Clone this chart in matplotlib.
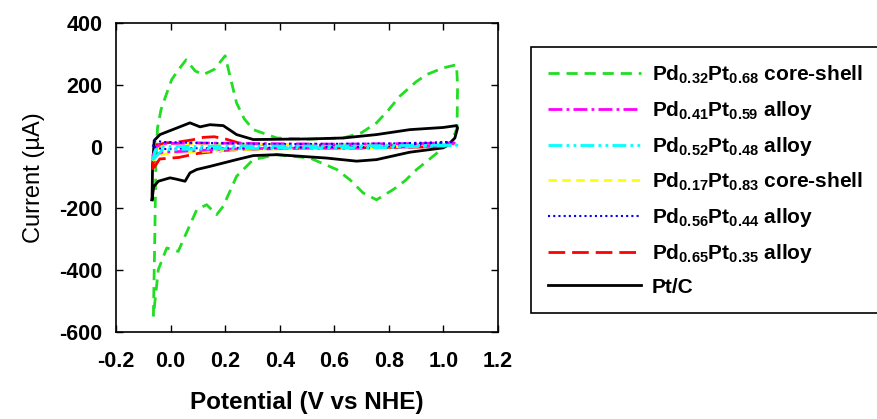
import numpy as np
import matplotlib
matplotlib.use("Agg")
from matplotlib import pyplot as plt

plt.rcParams['font.family'] = ['Liberation Sans', 'DejaVu Sans']
plt.rcParams['font.weight'] = 'bold'
plt.rcParams['axes.unicode_minus'] = False
plt.rcParams['mathtext.fontset'] = 'custom'
plt.rcParams['mathtext.rm'] = 'Liberation Sans:bold'
plt.rcParams['mathtext.bf'] = 'Liberation Sans:bold'
plt.rcParams['mathtext.default'] = 'bf'

# CV data (potential V vs NHE, current uA)
green_v = [-0.063, -0.058, -0.054, -0.048, -0.035, -0.027, 0.004, 0.03, 0.057, 0.09, 0.12, 0.16, 0.2,
           0.22, 0.242, 0.27, 0.303, 0.389, 0.5, 0.633, 0.7, 0.755, 0.8, 0.84, 0.9, 0.938, 1.0, 1.048,
           1.052, 1.05, 1.03, 0.999, 0.95, 0.902, 0.86, 0.816, 0.755, 0.706, 0.657, 0.609, 0.511,
           0.389, 0.303, 0.242, 0.193, 0.169, 0.132, 0.096, 0.047, 0.028, -0.014, -0.045, -0.063]
green_i = [-549, -300, -50, 60, 120, 141, 217, 250, 281, 245, 233, 250, 294,
           220, 141, 90, 55, 28, 24, 28, 45, 77, 120, 163, 210, 233, 255, 265,
           200, 60, 15, -4, -40, -74, -110, -139, -172, -150, -107, -74, -37,
           -26, -42, -96, -193, -220, -188, -204, -301, -339, -328, -398, -549]

black_v = [-0.068, -0.066, -0.06, -0.039, 0.022, 0.071, 0.108, 0.144, 0.193, 0.242, 0.303, 0.511, 0.633,
           0.755, 0.877, 0.999, 1.048, 1.052, 1.042, 1.02, 0.999, 0.877, 0.755, 0.682, 0.572, 0.389,
           0.303, 0.242, 0.144, 0.096, 0.071, 0.053, 0.02, -0.002, -0.045, -0.062, -0.068]
black_i = [-172, -60, 20, 39, 60, 77, 64, 71, 68, 39, 23, 25, 28,
           39, 55, 62, 68, 60, 28, 8, -4, -18, -42, -47, -37, -26,
           -29, -42, -64, -74, -85, -112, -105, -101, -112, -130, -172]

red_v = [-0.066, -0.06, -0.05, -0.02, 0.03, 0.08, 0.12, 0.16, 0.2, 0.25, 0.3, 0.5, 0.7, 0.9, 1.04,
         1.0, 0.8, 0.5, 0.3, 0.2, 0.1, 0.03, -0.04, -0.066]
red_i = [-75, -20, 5, 12, 15, 22, 30, 32, 25, 12, 8, 5, 5, 5, 8,
         0, -3, -5, -8, -12, -22, -35, -40, -75]

yellow_v = [-0.066, -0.05, 0.0, 0.2, 0.6, 1.04, 0.7, 0.3, 0.05, -0.03, -0.066]
yellow_i = [-45, -5, 10, 8, 6, 8, -5, -8, -18, -25, -45]

magenta_v = [-0.066, -0.05, -0.03, 0.1, 0.3, 0.6, 0.9, 1.04, 1.0, 0.7, 0.4, 0.2, 0.05, -0.03, -0.066]
magenta_i = [-30, 0, 10, 12, 10, 8, 10, 12, 2, -5, -5, -8, -15, -18, -30]

blue_v = [-0.066, -0.055, -0.03, 0.1, 0.4, 0.8, 1.03, 0.8, 0.4, 0.1, -0.03, -0.066]
blue_i = [0, 20, 15, 12, 8, 10, 15, 0, -3, -5, -8, 0]

cyan_v = [-0.066, -0.055, -0.03, 0.2, 0.6, 1.05, 0.8, 0.4, 0.1, -0.03, -0.066]
cyan_i = [-45, -10, 0, 2, 2, 5, -3, -5, -8, -10, -45]

fig = plt.figure(figsize=(8.77, 4.19), dpi=100)
ax = fig.add_axes([0.1323, 0.2076, 0.4355, 0.7374])

l_green, = ax.plot(green_v, green_i, color='#22dd22', lw=2, dashes=(4, 2.5))
l_black, = ax.plot(black_v, black_i, color='black', lw=2)
l_red, = ax.plot(red_v, red_i, color='red', lw=2, dashes=(6, 2.5))
l_yellow, = ax.plot(yellow_v, yellow_i, color='yellow', lw=2, dashes=(3, 2))
l_mag, = ax.plot(magenta_v, magenta_i, color='magenta', lw=2, dashes=(5, 1.5, 1, 1.5))
l_blue, = ax.plot(blue_v, blue_i, color='blue', lw=1.5, dashes=(1, 1.5))
l_cyan, = ax.plot(cyan_v, cyan_i, color='cyan', lw=2, dashes=(5, 1.5, 1, 1.5, 1, 1.5))

ax.set_xlim(-0.2, 1.2)
ax.set_ylim(-600, 400)
ax.set_xticks(np.arange(-0.2, 1.21, 0.2))
ax.set_xticklabels(['-0.2', '0.0', '0.2', '0.4', '0.6', '0.8', '1.0', '1.2'])
ax.set_yticks(np.arange(-600, 401, 200))
ax.tick_params(direction='in', top=True, right=True, length=5, width=1, labelsize=15.5, pad=10)
ax.tick_params(axis='x', pad=14)
for s in ax.spines.values():
    s.set_linewidth(1.2)
ax.set_xlabel('Potential (V vs NHE)', fontsize=17.5, fontweight='bold', labelpad=13)
ax.set_ylabel('Current (\u00b5A)', fontsize=17, fontweight='normal', labelpad=10)

handles = [l_green, l_mag, l_cyan, l_yellow, l_blue, l_red, l_black]
labels = [r'Pd$_{0.32}$Pt$_{0.68}$ core-shell',
          r'Pd$_{0.41}$Pt$_{0.59}$ alloy',
          r'Pd$_{0.52}$Pt$_{0.48}$ alloy',
          r'Pd$_{0.17}$Pt$_{0.83}$ core-shell',
          r'Pd$_{0.56}$Pt$_{0.44}$ alloy',
          r'Pd$_{0.65}$Pt$_{0.35}$ alloy',
          'Pt/C']
leg = fig.legend(handles, labels, loc='upper left', bbox_to_anchor=(531 / 877, 1 - 47 / 419),
                 borderaxespad=0, fontsize=15, handlelength=4.5, labelspacing=0.62, borderpad=0.8,
                 handletextpad=0.5, fancybox=False, edgecolor='black', framealpha=1)
leg.get_frame().set_linewidth(1.2)

fig.savefig('out.png', dpi=100)
